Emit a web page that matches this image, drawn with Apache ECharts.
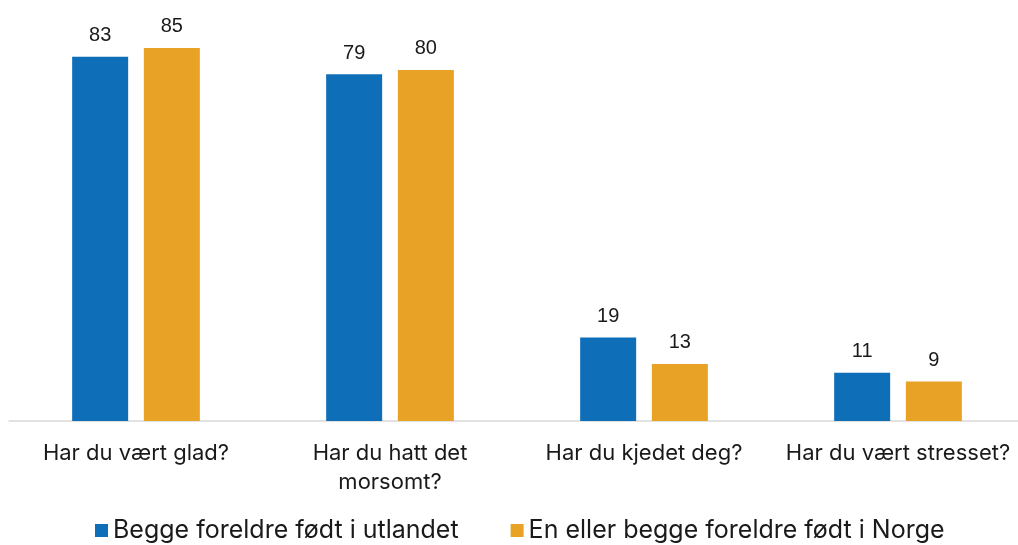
<!DOCTYPE html>
<html>
<head>
<meta charset="utf-8">
<script src="https://cdn.jsdelivr.net/npm/echarts@6/dist/echarts.min.js"></script>
<style>
  html, body { margin: 0; padding: 0; background: #fff; }
  #chart { width: 1018px; height: 545px; }
</style>
</head>
<body>
<div id="chart"></div>
<script>
const categories = ['Har du vært glad?', 'Har du hatt det\nmorsomt?', 'Har du kjedet deg?', 'Har du vært stresset?']
const seriesNames = ['Begge foreldre født i utlandet', 'En eller begge foreldre født i Norge']
const abroadValues = [83, 79, 19, 11]
const norwayValues = [85, 80, 13, 9]

const chart = echarts.init(document.getElementById('chart'))
const labelStyle = {
  show: true,
  position: 'top',
  distance: 11,
  fontFamily: 'Liberation Sans',
  fontSize: 20,
  color: '#1a1a1a'
}
chart.setOption({
  animation: false,
  legend: {
    top: 513,
    left: 90,
    icon: 'rect',
    itemWidth: 13,
    itemHeight: 13,
    itemGap: 52,
    textStyle: { fontFamily: 'Inter', fontSize: 25, color: '#1a1a1a' }
  },
  grid: { left: 9, right: -7, top: 26, bottom: 124, outerBoundsMode: 'none', containLabel: false },
  xAxis: {
    type: 'category',
    data: categories,
    axisLine: { lineStyle: { color: '#d9d9d9', width: 1.5 } },
    axisTick: { show: false },
    axisLabel: {
      interval: 0,
      hideOverlap: false,
      margin: 18,
      fontFamily: 'Inter',
      fontSize: 22,
      lineHeight: 29,
      color: '#1a1a1a'
    }
  },
  yAxis: {
    type: 'value',
    min: 0,
    max: 90,
    show: false,
    splitLine: { show: false }
  },
  series: [
    {
      name: seriesNames[0],
      type: 'bar',
      data: abroadValues,
      barWidth: 56,
      barGap: '28%',
      itemStyle: { color: '#0F6EB8' },
      label: labelStyle
    },
    {
      name: seriesNames[1],
      type: 'bar',
      data: norwayValues,
      barWidth: 56,
      itemStyle: { color: '#E8A326' },
      label: labelStyle
    }
  ]
})
</script>
</body>
</html>
